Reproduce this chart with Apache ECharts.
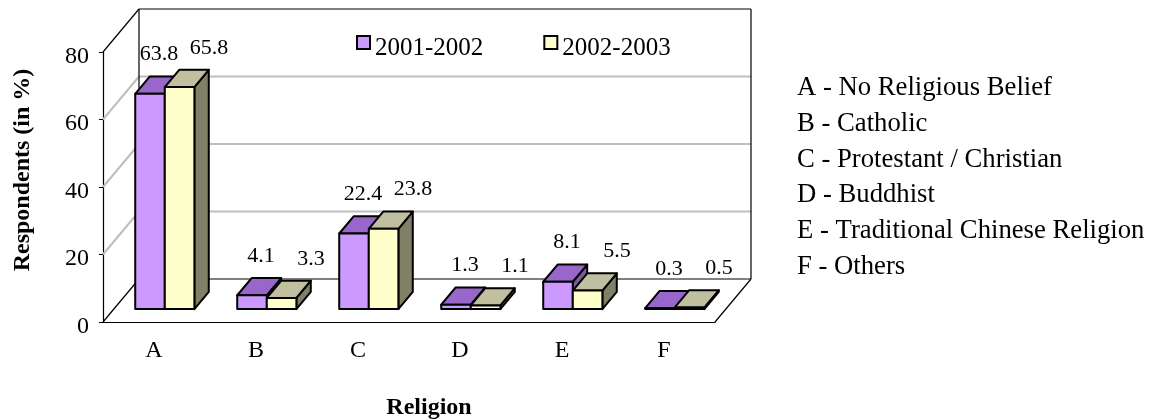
<!DOCTYPE html>
<html>
<head>
<meta charset="utf-8">
<title>Religion</title>
<script src="https://cdn.jsdelivr.net/npm/echarts@6/dist/echarts.min.js"></script>
<style>
  html, body { margin: 0; padding: 0; background: #fff; }
  #chart { width: 1164px; height: 420px; }
</style>
</head>
<body>
<div id="chart"></div>
<script>
// data
var categories = ['A', 'B', 'C', 'D', 'E', 'F']
var seriesNames = ['2001-2002', '2002-2003']
var values2001 = [63.8, 4.1, 22.4, 1.3, 8.1, 0.3]
var values2002 = [65.8, 3.3, 23.8, 1.1, 5.5, 0.5]
var yTicks = [0, 20, 40, 60, 80]
var keyLines = [
  'A - No Religious Belief',
  'B - Catholic',
  'C - Protestant / Christian',
  'D - Buddhist',
  'E - Traditional Chinese Religion',
  'F - Others'
]

var FONT = '"Liberation Serif", "Times New Roman", serif'
var DEPTH = [36, -43]      // offset of back wall from front plane
var FRONT_FRAC = 0.3       // where the bars start in depth
var BAR_DEPTH = 0.4        // bar depth as part of the floor depth
var BAR_FRAC = 0.29        // bar width as part of the category band

var colors = [
  { front: '#CC99FF', top: '#9966CC', side: '#7A5C99' },
  { front: '#FFFFCC', top: '#C0C0A0', side: '#808066' }
]
var labelShift = [5, 55]   // label x offset from category center

function frameRender(params, api) {
  var cs = params.coordSys
  var x = cs.x, w = cs.width
  var kids = []
  var dark = { stroke: '#000', lineWidth: 1.2 }
  var grey = { stroke: '#BEBEBE', lineWidth: 2 }
  yTicks.forEach(function (v, k) {
    var y = api.coord([0, v])[1]
    var edge = k === 0 || k === yTicks.length - 1
    var st = edge ? dark : grey
    kids.push({ type: 'line', shape: { x1: x + DEPTH[0], y1: y + DEPTH[1], x2: x + w + DEPTH[0], y2: y + DEPTH[1] }, style: st })
    kids.push({ type: 'line', shape: { x1: x, y1: y, x2: x + DEPTH[0], y2: y + DEPTH[1] }, style: st })
  })
  var yTop = api.coord([0, yTicks[yTicks.length - 1]])[1] + DEPTH[1]
  var yBot = api.coord([0, yTicks[0]])[1] + DEPTH[1]
  kids.push({ type: 'line', shape: { x1: x + DEPTH[0], y1: yTop, x2: x + DEPTH[0], y2: yBot }, style: dark })
  kids.push({ type: 'line', shape: { x1: x + w + DEPTH[0], y1: yTop, x2: x + w + DEPTH[0], y2: yBot }, style: dark })
  kids.push({ type: 'line', shape: { x1: x + w, y1: yBot - DEPTH[1], x2: x + w + DEPTH[0], y2: yBot }, style: dark })
  return { type: 'group', children: kids }
}

function barRender(side) {
  var c = colors[side]
  return function (params, api) {
    var i = api.value(0)
    var v = api.value(1)
    var base = api.coord([i, 0])
    var top = api.coord([i, v])
    var bw = api.size([1, 0])[0] * BAR_FRAC
    var fx = DEPTH[0] * FRONT_FRAC, fy = DEPTH[1] * FRONT_FRAC
    var dx = DEPTH[0] * BAR_DEPTH, dy = DEPTH[1] * BAR_DEPTH
    var x0 = base[0] + fx - (side === 0 ? bw : 0)
    var x1 = x0 + bw
    var yb = base[1] + fy
    var yt = top[1] + fy
    var edge = { stroke: '#000', lineWidth: 2, lineJoin: 'round' }
    return {
      type: 'group',
      children: [
        { type: 'polygon', shape: { points: [[x1, yt], [x1 + dx, yt + dy], [x1 + dx, yb + dy], [x1, yb]] },
          style: echarts.util.extend({ fill: c.side }, edge) },
        { type: 'polygon', shape: { points: [[x0, yt], [x1, yt], [x1 + dx, yt + dy], [x0 + dx, yt + dy]] },
          style: echarts.util.extend({ fill: c.top }, edge) },
        { type: 'rect', shape: { x: x0, y: yt, width: bw, height: yb - yt },
          style: echarts.util.extend({ fill: c.front }, edge) },
        { type: 'text', style: {
            text: v.toFixed(1), x: base[0] + labelShift[side], y: top[1] - 52,
            align: 'center', verticalAlign: 'middle', fill: '#000', font: '22px ' + FONT } }
      ]
    }
  }
}

function pairs(vals) {
  return vals.map(function (v, i) { return [i, v] })
}

var chart = echarts.init(document.getElementById('chart'))

var graphics = [
  { type: 'text', x: 23, y: 170, rotation: Math.PI / 2,
    style: { text: 'Respondents (in %)', align: 'center', verticalAlign: 'middle', fill: '#000', font: 'bold 24px ' + FONT } },
  { type: 'text', x: 429, y: 408,
    style: { text: 'Religion', align: 'center', verticalAlign: 'middle', fill: '#000', font: 'bold 24px ' + FONT } }
]
keyLines.forEach(function (t, k) {
  graphics.push({ type: 'text', x: 797, y: 88 + k * 35.8,
    style: { text: t, align: 'left', verticalAlign: 'middle', fill: '#000', font: '26.7px ' + FONT } })
})

chart.setOption({
  animation: false,
  backgroundColor: '#fff',
  grid: { left: 103, top: 52, width: 612, height: 270 },
  legend: {
    data: seriesNames,
    left: 351,
    top: 30,
    icon: 'rect',
    itemWidth: 13,
    itemHeight: 13,
    itemGap: 60,
    itemStyle: { borderColor: '#000', borderWidth: 2 },
    formatter: '{t|{name}}',
    textStyle: {
      color: '#000',
      rich: { t: { fontFamily: FONT, fontSize: 25, color: '#000', padding: [12, 0, 0, 0] } }
    }
  },
  xAxis: {
    type: 'category',
    data: categories,
    axisLine: { lineStyle: { color: '#000', width: 1.2 } },
    axisTick: { inside: true, length: 6, lineStyle: { color: '#000' } },
    axisLabel: { fontFamily: FONT, fontSize: 24, color: '#000', margin: 17 }
  },
  yAxis: {
    type: 'value',
    min: 0,
    max: 80,
    interval: 20,
    axisLine: { show: true, lineStyle: { color: '#000', width: 1.2 } },
    axisTick: { show: true, length: 4, lineStyle: { color: '#000' } },
    axisLabel: {
      color: '#000', margin: 14,
      formatter: '{v|{value}}',
      rich: { v: { fontFamily: FONT, fontSize: 24, color: '#000', padding: [9, 0, 0, 0] } }
    },
    splitLine: { show: false }
  },
  graphic: graphics,
  series: [
    { type: 'custom', name: 'frame', silent: true, renderItem: frameRender, data: [[0, 0]], z: 1 },
    { type: 'custom', name: seriesNames[0], renderItem: barRender(0), data: pairs(values2001),
      itemStyle: { color: colors[0].front }, z: 2 },
    { type: 'custom', name: seriesNames[1], renderItem: barRender(1), data: pairs(values2002),
      itemStyle: { color: colors[1].front }, z: 3 }
  ]
})
</script>
</body>
</html>
